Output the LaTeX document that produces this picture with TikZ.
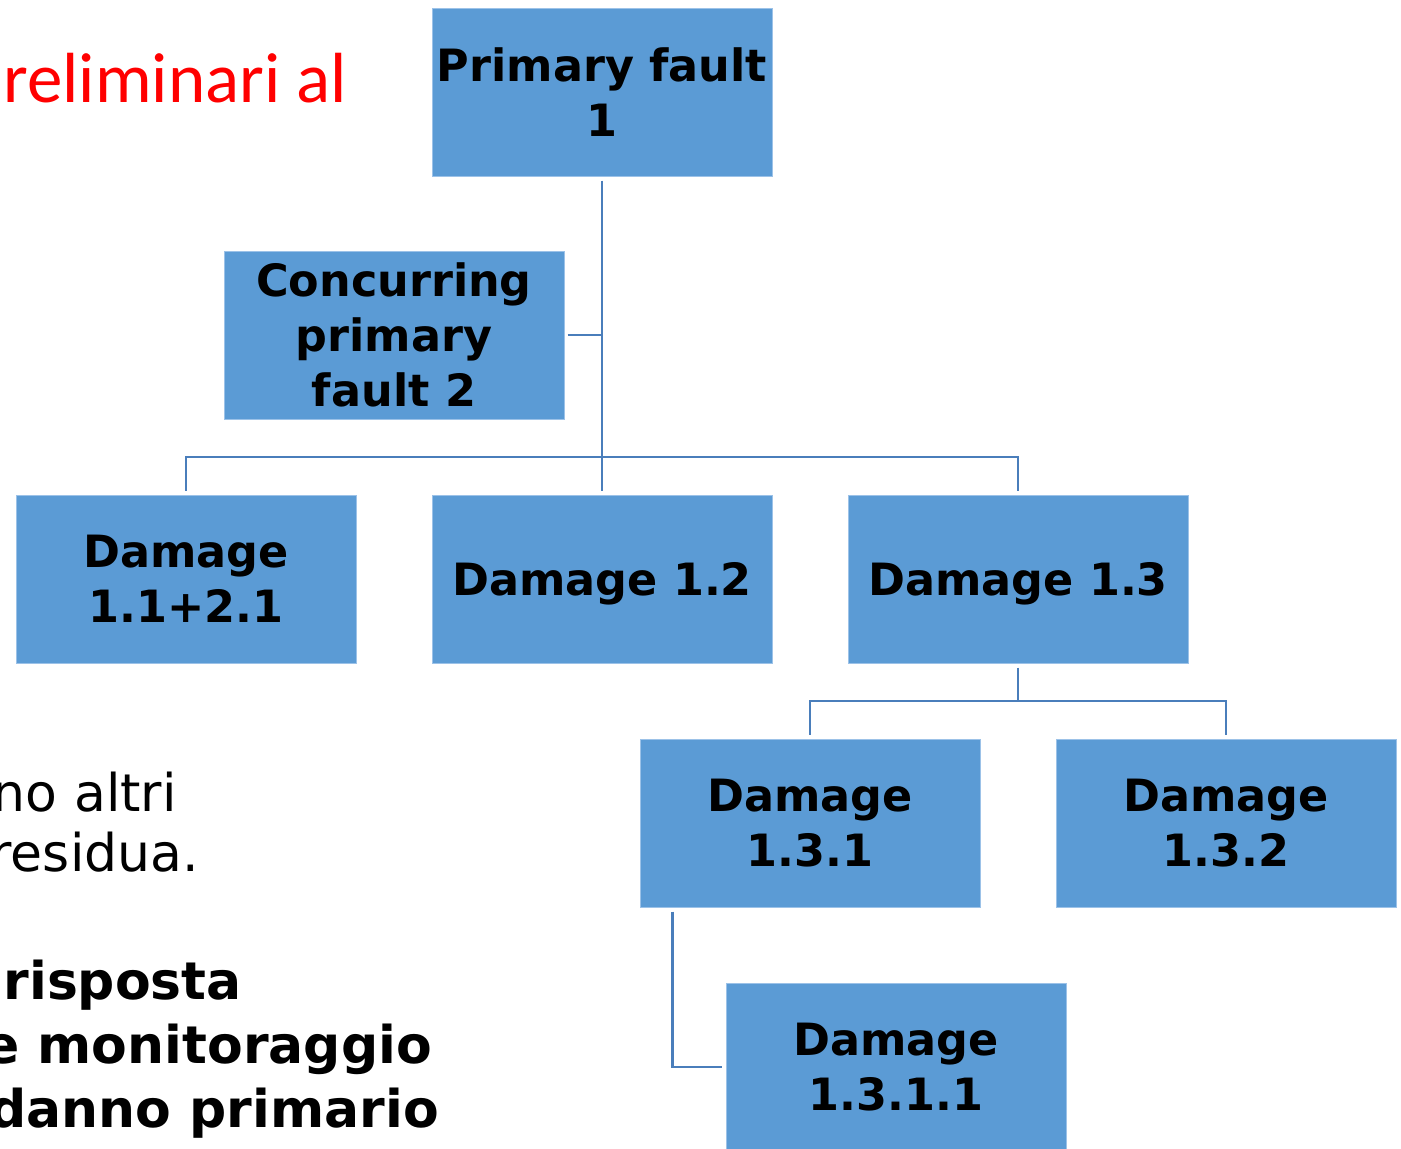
\documentclass[tikz,border=0pt]{standalone}
\usepackage{fontspec}
\setmainfont{DejaVu Sans}
\newfontfamily\headfont{Carlito}
\definecolor{boxblue}{HTML}{5B9BD5}
\definecolor{boxedge}{HTML}{9CC2E8}
\definecolor{linkblue}{HTML}{4A7EBB}
\tikzset{
  faultbox/.style={rectangle, fill=boxblue, draw=boxedge, line width=1pt,
    minimum width=340pt, minimum height=168pt, inner sep=0pt, align=center,
    text depth=0pt, font=\bfseries\fontsize{44.5}{55}\selectfont},
  link/.style={draw=linkblue, line width=2.2pt},
  bodytext/.style={anchor=base east, inner sep=0pt, font=\fontsize{52}{62}\selectfont},
  bodybold/.style={bodytext, font=\bfseries\fontsize{52}{64}\selectfont}
}
\begin{document}
\begin{tikzpicture}[x=1pt, y=-1pt]
  \useasboundingbox (0,0) rectangle (1401,1149);
  \clip (0,0) rectangle (1401,1149);
  \fill[white] (0,0) rectangle (1401,1149);

  % slide text partly hidden behind the chart
  \node[anchor=base east, inner sep=0pt, text=red, font=\headfont\fontsize{71}{84}\selectfont]
    (title) at (347,102) {reliminari al};
  \node[bodytext] (lineA) at (177,811) {no altri};
  \node[bodytext] (lineB) at (199,871) {residua.};
  \node[bodybold] (lineC) at (242,999) {risposta};
  \node[bodybold] (lineD) at (432,1063) {e monitoraggio};
  \node[bodybold] (lineE) at (439,1127) {danno primario};

  % fault tree boxes
  \node[faultbox] (prim) at (602,92)  {Primary fault\\1};
  \node[faultbox] (conc) at (394,335) {Concurring\\primary\\fault 2};
  \node[faultbox] (d11)  at (186,579) {Damage\\1.1+2.1};
  \node[faultbox] (d12)  at (602,579) {Damage 1.2};
  \node[faultbox] (d13)  at (1018,579) {Damage 1.3};
  \node[faultbox] (d131) at (810,823) {Damage\\1.3.1};
  \node[faultbox] (d132) at (1226,823) {Damage\\1.3.2};
  \node[faultbox] (d1311) at (896,1067) {Damage\\1.3.1.1};

  % junction points of the connectors
  \coordinate (bus1) at (602,457);
  \coordinate (bus2) at (1018,701);

  % connectors
  \draw[link] ([yshift=-4pt]prim.south) -- ([yshift=4pt]d12.north);
  \draw[link] ([xshift=3pt]conc.east) -- (conc.east -| prim.south);
  \draw[link] ([yshift=4pt]d11.north) |- (bus1) -| ([yshift=4pt]d13.north);
  \draw[link] ([yshift=-4pt]d13.south) -- (bus2);
  \draw[link] ([yshift=4pt]d131.north) |- (bus2) -| ([yshift=4pt]d132.north);
  \draw[link] ([xshift=33pt,yshift=-4pt]d131.south west) |- ([xshift=-4pt]d1311.west);
\end{tikzpicture}
\end{document}
